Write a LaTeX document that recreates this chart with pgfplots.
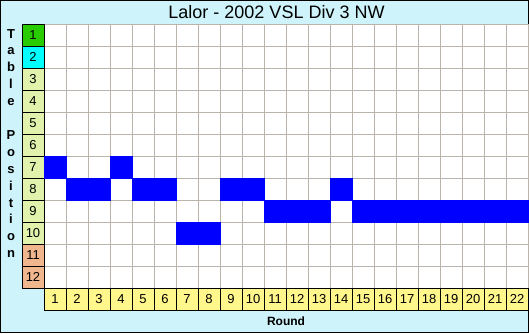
\documentclass[border=0pt]{standalone}
\usepackage{pgfplots}
\pgfplotsset{compat=1.18}
\usepackage{fontspec}
\setmainfont{Liberation Sans}
\definecolor{bg}{RGB}{206,243,250}
\definecolor{gridc}{RGB}{186,180,172}
\definecolor{cone}{RGB}{40,204,0}
\definecolor{ctwo}{RGB}{0,255,255}
\definecolor{cmid}{RGB}{224,242,172}
\definecolor{clow}{RGB}{240,182,142}
\definecolor{cx}{RGB}{255,246,140}
\begin{document}
\begin{tikzpicture}
\begin{scope}[shift={(0,333pt)}, x=1pt, y=-1pt]
  \fill[bg] (0,0) rectangle (529,333);
  \draw[black, line width=1pt] (0.5,0.5) rectangle (528.5,332.5);
  \fill[white] (44,24) rectangle (528,288);
  \foreach \i in {1,...,22} \draw[gridc, line width=0.9pt] ({44+22*\i},24) -- ({44+22*\i},288);
  \foreach \j in {0,...,11} \draw[gridc, line width=0.9pt] (44,{24+22*\j}) -- (528,{24+22*\j});
  % left position cells
  \foreach \p/\c in {1/cone,2/ctwo,3/cmid,4/cmid,5/cmid,6/cmid,7/cmid,8/cmid,9/cmid,10/cmid,11/clow,12/clow}{
    \filldraw[fill=\c, draw=black, line width=0.9pt] (22,{24+22*(\p-1)}) rectangle (44,{24+22*\p});
    \node[font=\fontsize{13}{15}\selectfont, anchor=base] at (33,{13+22*\p+4.6}) {\p};
  }
  % bottom round cells
  \foreach \r in {1,...,22}{
    \filldraw[fill=cx, draw=black, line width=0.9pt] ({44+22*(\r-1)},288) rectangle ({44+22*\r},310);
    \node[font=\fontsize{13}{15}\selectfont, anchor=base] at ({33+22*\r},303.6) {\r};
  }
  \node[font=\fontsize{18}{20}\selectfont, anchor=base] at (276.5,18.5) {Lalor - 2002 VSL Div 3 NW};
  \node[font=\bfseries\fontsize{12}{14}\selectfont, anchor=base] at (286,325) {Round};
  \foreach \l [count=\i from 0] in {T,a,b,l,e,{},P,o,s,i,t,i,o,n}{
    \node[font=\bfseries\fontsize{13}{15}\selectfont, anchor=base] at (11,{38+16.9*\i}) {\l};
  }
\end{scope}
\begin{axis}[x=22pt, y=22pt, y dir=reverse, scale only axis,
  xmin=-1.5, xmax=22.545454, ymin=-0.590909, ymax=14.545454,
  hide axis, clip=false]
\addplot[only marks, mark=square*, mark size=11pt,
  mark options={fill=blue, draw=blue, line width=0pt}] coordinates {
  (1,7) (2,8) (3,8) (4,7) (5,8) (6,8) (7,10) (8,10) (9,8) (10,8) (11,9)
  (12,9) (13,9) (14,8) (15,9) (16,9) (17,9) (18,9) (19,9) (20,9) (21,9) (22,9)};
\end{axis}
\end{tikzpicture}
\end{document}
